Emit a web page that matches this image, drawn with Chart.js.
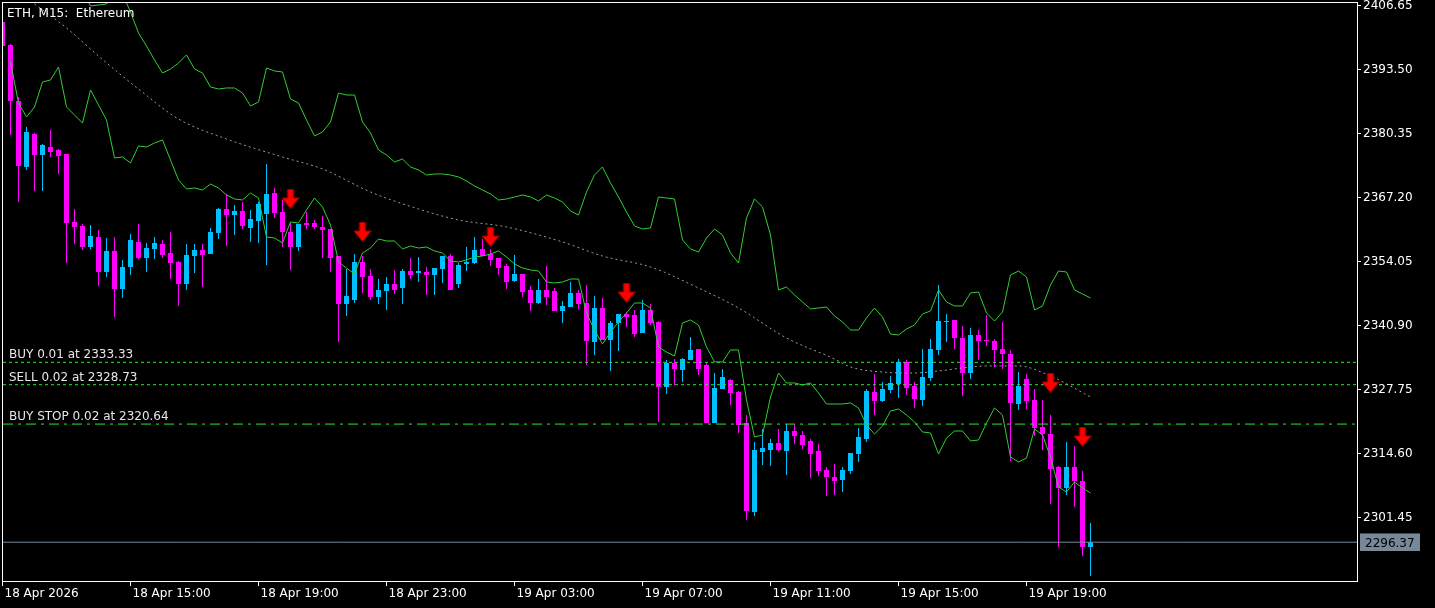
<!DOCTYPE html>
<html>
<head>
<meta charset="utf-8">
<title>ETH, M15</title>
<script src="https://cdn.jsdelivr.net/npm/chart.js@4.4.1/dist/chart.umd.min.js"></script>
<style>
  html, body { margin: 0; padding: 0; background: #000; }
  #chart { display: block; background: #000; }
</style>
</head>
<body>
<canvas id="chart" width="1435" height="608"></canvas>
<script>
'use strict';

// ─── Data (ETH M15, 18 Apr 11:00 → 19 Apr 21:00) ─────────────────────────────
const opens = [
  2403.26, 2398.53, 2387.03, 2373.47, 2380.25, 2375.93, 2377.58, 2376.96, 2376.14, 2362.17,
  2361.34, 2357.03, 2359.08, 2351.89, 2356.21, 2348.40, 2352.92, 2358.06, 2354.77, 2356.62,
  2357.65, 2355.80, 2353.95, 2349.43, 2355.18, 2356.41, 2355.59, 2359.91, 2364.84, 2363.60,
  2364.43, 2360.93, 2362.37, 2363.81, 2368.12, 2364.22, 2360.11, 2357.03, 2361.96, 2361.96,
  2361.14, 2360.73, 2355.18, 2345.32, 2346.14, 2353.95, 2351.07, 2346.76, 2347.99, 2349.43,
  2348.60, 2352.10, 2351.69, 2351.89, 2351.28, 2352.51, 2355.18, 2349.43, 2353.54, 2353.74,
  2356.62, 2355.59, 2354.77, 2353.12, 2350.04, 2351.48, 2348.19, 2345.52, 2348.19, 2347.99,
  2343.88, 2344.70, 2347.58, 2345.52, 2337.51, 2344.50, 2337.92, 2341.41, 2343.26, 2343.06,
  2339.36, 2344.08, 2341.62, 2328.26, 2333.19, 2331.76, 2333.81, 2336.07, 2332.78, 2320.87,
  2327.85, 2329.70, 2327.24, 2320.87, 2302.58, 2314.91, 2315.32, 2316.76, 2315.11, 2319.22,
  2318.40, 2317.17, 2315.11, 2311.21, 2309.77, 2309.15, 2311.00, 2314.50, 2317.58, 2327.24,
  2325.39, 2327.65, 2328.88, 2333.40, 2328.47, 2325.59, 2330.11, 2335.87, 2341.62, 2342.03,
  2338.33, 2331.14, 2338.95, 2337.92, 2337.72, 2336.07, 2335.04, 2324.77, 2329.91, 2325.59,
  2320.04, 2318.61, 2311.83, 2307.51, 2311.83, 2308.95, 2295.39
];
const highs = [
  2404.08, 2398.74, 2387.85, 2381.69, 2380.51, 2378.19, 2381.07, 2377.17, 2376.14, 2364.84,
  2361.76, 2361.55, 2360.52, 2358.88, 2359.08, 2354.36, 2359.70, 2361.76, 2357.85, 2359.08,
  2358.47, 2360.11, 2354.15, 2357.65, 2357.65, 2357.65, 2360.93, 2365.04, 2367.92, 2365.66,
  2366.28, 2364.63, 2366.28, 2374.08, 2369.15, 2366.69, 2361.96, 2361.76, 2364.22, 2362.58,
  2363.40, 2360.73, 2355.18, 2352.51, 2355.59, 2355.18, 2352.51, 2350.45, 2350.86, 2352.30,
  2352.51, 2354.77, 2354.97, 2352.92, 2352.71, 2355.18, 2355.59, 2353.74, 2357.03, 2359.08,
  2358.67, 2356.62, 2354.77, 2353.54, 2355.39, 2351.48, 2349.02, 2350.45, 2353.12, 2348.60,
  2345.93, 2349.84, 2348.19, 2349.22, 2346.96, 2346.55, 2341.82, 2343.26, 2343.67, 2344.08,
  2346.14, 2345.32, 2341.82, 2333.81, 2334.02, 2334.22, 2338.54, 2336.07, 2333.19, 2331.14,
  2331.96, 2329.91, 2327.44, 2322.51, 2316.96, 2319.63, 2317.58, 2319.63, 2320.66, 2320.66,
  2319.22, 2317.58, 2316.55, 2311.83, 2312.44, 2311.83, 2314.70, 2319.84, 2327.85, 2330.93,
  2329.29, 2330.52, 2334.02, 2333.81, 2329.29, 2336.07, 2338.13, 2349.22, 2343.26, 2342.03,
  2340.80, 2340.39, 2339.97, 2343.06, 2338.13, 2341.62, 2335.87, 2331.34, 2330.93, 2327.85,
  2325.59, 2322.51, 2312.03, 2316.96, 2316.14, 2311.00, 2300.32
];
const lows = [
  2397.51, 2380.04, 2366.28, 2372.85, 2368.54, 2368.54, 2375.52, 2372.03, 2353.74, 2357.65,
  2356.41, 2356.62, 2349.02, 2350.86, 2342.65, 2346.55, 2351.28, 2354.56, 2351.89, 2354.56,
  2354.77, 2350.45, 2344.91, 2348.19, 2351.69, 2348.81, 2355.59, 2358.67, 2357.23, 2359.49,
  2360.73, 2358.06, 2357.85, 2353.33, 2362.99, 2357.03, 2352.30, 2356.21, 2360.73, 2360.73,
  2354.77, 2351.89, 2337.51, 2342.85, 2345.52, 2347.58, 2346.14, 2345.32, 2344.08, 2347.37,
  2345.32, 2350.45, 2349.84, 2347.17, 2347.17, 2349.63, 2348.19, 2348.60, 2352.10, 2353.54,
  2355.18, 2353.12, 2351.28, 2348.40, 2349.84, 2346.76, 2343.88, 2345.32, 2345.11, 2343.88,
  2341.41, 2344.70, 2344.29, 2332.78, 2334.84, 2337.92, 2331.55, 2335.66, 2340.59, 2338.54,
  2339.36, 2341.00, 2321.07, 2326.82, 2328.67, 2329.29, 2333.81, 2330.73, 2320.87, 2320.87,
  2327.85, 2324.56, 2318.81, 2300.94, 2301.76, 2312.24, 2312.03, 2315.11, 2310.18, 2316.55,
  2315.52, 2309.57, 2309.98, 2305.87, 2306.07, 2306.69, 2310.39, 2312.85, 2316.96, 2322.51,
  2325.18, 2327.03, 2326.00, 2326.62, 2323.95, 2324.36, 2329.50, 2334.84, 2337.51, 2336.07,
  2326.41, 2329.91, 2333.81, 2336.69, 2332.37, 2331.96, 2313.06, 2323.54, 2323.74, 2318.20,
  2315.32, 2304.22, 2295.39, 2306.07, 2303.61, 2293.54, 2289.43
];
const closes = [
  2398.33, 2387.03, 2373.67, 2380.66, 2375.93, 2377.99, 2376.55, 2375.73, 2361.96, 2361.14,
  2357.03, 2359.29, 2351.89, 2356.21, 2348.40, 2352.92, 2358.47, 2354.77, 2356.82, 2357.85,
  2355.39, 2353.74, 2349.43, 2355.39, 2356.41, 2355.39, 2360.11, 2364.84, 2363.60, 2364.43,
  2361.34, 2362.78, 2365.86, 2367.92, 2364.01, 2360.11, 2357.03, 2361.76, 2361.55, 2361.14,
  2360.52, 2354.77, 2345.32, 2346.96, 2353.95, 2350.86, 2346.76, 2348.19, 2349.43, 2348.19,
  2352.10, 2351.28, 2352.10, 2351.28, 2352.71, 2355.18, 2348.19, 2353.33, 2353.95, 2356.41,
  2355.18, 2354.36, 2352.71, 2349.84, 2351.48, 2347.78, 2345.52, 2348.19, 2346.76, 2343.88,
  2344.91, 2347.58, 2345.32, 2337.72, 2344.50, 2337.92, 2341.41, 2343.26, 2342.65, 2339.15,
  2344.08, 2341.41, 2328.26, 2333.19, 2331.96, 2334.02, 2335.87, 2331.96, 2320.87, 2328.06,
  2330.32, 2327.03, 2320.46, 2302.79, 2315.32, 2315.73, 2316.76, 2315.32, 2319.22, 2318.20,
  2316.35, 2314.50, 2311.00, 2309.77, 2308.95, 2311.21, 2314.70, 2317.99, 2327.44, 2325.39,
  2327.85, 2329.09, 2333.40, 2328.06, 2325.80, 2330.32, 2336.07, 2341.82, 2341.82, 2338.33,
  2331.14, 2338.95, 2337.72, 2337.72, 2335.87, 2335.04, 2324.98, 2328.47, 2325.39, 2319.84,
  2318.61, 2311.41, 2307.51, 2311.83, 2308.95, 2295.39, 2296.37
];

// upper / lower green band, one value per bar (null = not drawn)
const upperBand = [
  null, null, null, null, null, null, null, null, null, null,
  2409.83, 2406.55, 2406.75, 2406.96, 2410.25, 2409.01, 2405.31, 2401.00, 2398.33, 2395.45,
  2392.78, 2393.60, 2394.83, 2396.48, 2393.60, 2392.78, 2389.90, 2389.49, 2389.70, 2389.70,
  2388.67, 2386.00, 2386.82, 2393.81, 2393.19, 2392.99, 2387.44, 2386.62, 2383.12, 2379.84,
  2380.66, 2382.71, 2388.67, 2388.26, 2388.26, 2382.71, 2380.45, 2376.96, 2375.93, 2374.49,
  2375.11, 2373.47, 2372.85, 2371.82, 2372.03, 2372.03, 2371.82, 2371.41, 2370.59, 2369.56,
  2368.74, 2367.92, 2366.69, 2366.89, 2367.30, 2367.71, 2367.30, 2366.48, 2367.71, 2367.10,
  2366.28, 2364.43, 2363.60, 2368.33, 2371.82, 2373.47, 2370.18, 2367.30, 2364.22, 2361.34,
  2360.73, 2360.93, 2367.30, 2367.10, 2366.89, 2358.47, 2356.62, 2356.00, 2358.88, 2360.73,
  2359.49, 2355.80, 2353.74, 2362.99, 2366.89, 2365.25, 2359.49, 2348.19, 2348.81, 2347.17,
  2345.73, 2344.29, 2344.50, 2344.70, 2342.85, 2341.62, 2339.97, 2339.97, 2342.44, 2344.50,
  2342.65, 2339.15, 2338.95, 2340.18, 2341.00, 2343.26, 2343.88, 2348.19, 2345.73, 2344.91,
  2344.91, 2347.58, 2347.78, 2343.47, 2341.82, 2343.67, 2351.28, 2352.10, 2350.86, 2344.08,
  2344.91, 2349.22, 2352.10, 2351.89, 2348.19, 2347.37, 2346.55
];
const lowerBand = [
  null, 2395.04, 2386.62, 2383.74, 2385.79, 2390.93, 2391.34, 2394.01, 2385.79, 2384.15,
  2382.51, 2389.29, 2386.21, 2383.12, 2375.32, 2375.52, 2374.29, 2377.78, 2377.58, 2378.40,
  2379.02, 2374.90, 2370.80, 2368.95, 2369.15, 2368.74, 2369.97, 2369.15, 2367.71, 2366.89,
  2366.69, 2368.12, 2367.10, 2359.08, 2358.88, 2357.85, 2362.17, 2361.96, 2364.63, 2367.10,
  2365.25, 2361.55, 2353.95, 2352.71, 2351.48, 2355.80, 2356.82, 2358.67, 2358.26, 2358.26,
  2356.62, 2357.23, 2356.82, 2357.03, 2356.21, 2355.80, 2354.15, 2353.95, 2354.36, 2354.97,
  2355.18, 2355.59, 2356.21, 2354.97, 2353.54, 2352.71, 2352.30, 2352.10, 2349.84, 2349.63,
  2349.84, 2350.45, 2350.45, 2343.47, 2339.97, 2337.10, 2339.56, 2341.62, 2343.47, 2345.52,
  2345.52, 2344.50, 2336.48, 2335.45, 2334.63, 2341.41, 2342.03, 2341.00, 2336.48, 2333.40,
  2333.40, 2335.87, 2335.87, 2325.59, 2317.99, 2318.40, 2326.21, 2331.14, 2329.09, 2329.09,
  2328.67, 2329.09, 2327.03, 2324.77, 2324.77, 2324.77, 2324.98, 2323.95, 2320.46, 2318.61,
  2320.25, 2323.33, 2323.74, 2322.51, 2321.07, 2319.02, 2318.81, 2314.50, 2317.78, 2319.22,
  2319.22, 2317.17, 2317.37, 2320.87, 2323.95, 2322.51, 2313.88, 2312.85, 2313.67, 2319.63,
  2318.40, 2313.88, 2307.72, 2306.69, 2308.74, 2307.51, 2306.48
];

// slow moving average (grey dotted), read at these bars
const maIdx  = [0, 4, 8, 12, 17, 22, 28, 35, 40, 46, 52, 57, 63, 70, 75, 81, 87, 92, 98, 104,
                106, 110, 114, 117, 120, 123, 127, 131, 136];
const maVals = [2411.89, 2406.96, 2402.03, 2396.27, 2389.49, 2383.33, 2379.22, 2375.52, 2373.06,
                2368.33, 2364.84, 2362.58, 2361.14, 2358.06, 2355.18, 2352.92, 2348.60, 2344.50,
                2338.33, 2334.02, 2332.37, 2331.34, 2331.14, 2331.55, 2332.17, 2332.58, 2332.58,
                2330.52, 2326.21];

// sell signal arrows
const arrowIdx  = [36, 45, 61, 78, 131, 135];
const arrowVals = [2366.89, 2360.11, 2359.08, 2347.58, 2329.09, 2317.99];

// open orders
const orderLabels = ['BUY 0.01 at 2333.33', 'SELL 0.02 at 2328.73', 'BUY STOP 0.02 at 2320.64'];
const orderPrices = [2333.33, 2328.73, 2320.64];

const bidPrice = 2296.37;

// axes
const yTickValues = [2301.45, 2314.60, 2327.75, 2340.90, 2354.05, 2367.20, 2380.35, 2393.50, 2406.65];
const xTickIdx    = [0, 16, 32, 48, 64, 80, 96, 112, 128];
const xTickLabels = ['18 Apr 2026', '18 Apr 15:00', '18 Apr 19:00', '18 Apr 23:00', '19 Apr 03:00',
                     '19 Apr 07:00', '19 Apr 11:00', '19 Apr 15:00', '19 Apr 19:00'];

// ─── Look ─────────────────────────────────────────────────────────────────────
const BULL = '#00bfff';
const BEAR = '#ff00ff';
const BAND = '#32cd32';
const ORDER = '#2ee62e';
const MA_COLOR = '#9a9a9a';
const FONT = '"DejaVu Sans", "Noto Sans", sans-serif';
const X_MIN = 0.0625, X_MAX = 169.3125;
const Y_MIN = 2288.40, Y_MAX = 2407.16;

Chart.defaults.font.family = FONT;
Chart.defaults.font.size = 12;
Chart.defaults.color = '#ffffff';

const idx = opens.map((_, i) => i);
const candleColors = idx.map(i => (closes[i] >= opens[i] ? BULL : BEAR));

function arrowImage() {
  const c = document.createElement('canvas');
  c.width = 18; c.height = 20;
  const g = c.getContext('2d');
  g.beginPath();
  g.moveTo(6, 0.5); g.lineTo(12, 0.5); g.lineTo(12, 9);
  g.lineTo(17.5, 9); g.lineTo(9, 19.5); g.lineTo(0.5, 9);
  g.lineTo(6, 9); g.closePath();
  g.fillStyle = '#ff0000';
  g.fill();
  g.strokeStyle = '#a00000';
  g.lineWidth = 1;
  g.stroke();
  return c;
}

const hline = price => [{ x: X_MIN, y: price }, { x: X_MAX, y: price }];
const orderDash = [[3, 3], [3, 3], [10, 5, 3, 5]];

// ─── Plugin: frame, caption, order texts, price box ──────────────────────────
const decorations = {
  id: 'decorations',
  afterDraw(chart) {
    const { ctx, chartArea: a, scales } = chart;
    ctx.save();
    ctx.strokeStyle = '#ffffff';
    ctx.lineWidth = 1;
    ctx.strokeRect(a.left - 0.5, a.top - 0.5, a.right - a.left + 1, a.bottom - a.top + 1);

    ctx.font = '12px ' + FONT;
    ctx.textBaseline = 'alphabetic';
    ctx.textAlign = 'left';
    ctx.fillStyle = '#ffffff';
    ctx.fillText('ETH, M15:  Ethereum', 7, 17);

    ctx.fillStyle = '#e6e6e6';
    orderPrices.forEach((p, i) => {
      const y = scales.y.getPixelForValue(p);
      ctx.fillText(orderLabels[i], 9, Math.round(y) - 4);
    });

    // bid price box on the price axis
    const by = Math.round(scales.y.getPixelForValue(bidPrice));
    ctx.fillStyle = '#778899';
    ctx.fillRect(a.right + 3, by - 8, 60, 17);
    ctx.fillStyle = '#ff0000';
    ctx.fillRect(a.right + 3, by - 9, 60, 1);
    ctx.fillStyle = '#000000';
    ctx.fillText(bidPrice.toFixed(2), a.right + 8, by + 5);
    ctx.restore();
  }
};

// ─── Chart ────────────────────────────────────────────────────────────────────
new Chart(document.getElementById('chart').getContext('2d'), {
  type: 'line',
  data: {
    datasets: [
      {
        type: 'bar', label: 'wicks',
        data: idx.map(i => ({ x: i, y: [lows[i], highs[i]] })),
        backgroundColor: candleColors,
        barThickness: 1, grouped: false, inflateAmount: 0, borderWidth: 0,
        order: 10,
      },
      {
        type: 'bar', label: 'bodies',
        data: idx.map(i => ({ x: i, y: [opens[i], closes[i]] })),
        backgroundColor: candleColors,
        barThickness: 5, grouped: false, inflateAmount: 0, borderWidth: 0, minBarLength: 1,
        order: 9,
      },
      {
        label: 'upper', data: idx.map(i => ({ x: i, y: upperBand[i] })),
        borderColor: BAND, borderWidth: 1, pointRadius: 0, spanGaps: false, order: 5,
      },
      {
        label: 'lower', data: idx.map(i => ({ x: i, y: lowerBand[i] })),
        borderColor: BAND, borderWidth: 1, pointRadius: 0, spanGaps: false, order: 5,
      },
      {
        label: 'ma', data: maIdx.map((k, i) => ({ x: k, y: maVals[i] })),
        borderColor: MA_COLOR, borderWidth: 1, borderDash: [2, 3], pointRadius: 0,
        cubicInterpolationMode: 'monotone', order: 6,
      },
      ...orderPrices.map((p, i) => ({
        label: orderLabels[i], data: hline(p),
        borderColor: ORDER, borderWidth: 1, borderDash: orderDash[i], pointRadius: 0, order: 4,
      })),
      {
        label: 'bid', data: hline(bidPrice),
        borderColor: '#778899', borderWidth: 1, pointRadius: 0, order: 3,
      },
      {
        type: 'scatter', label: 'sell',
        data: arrowIdx.map((k, i) => ({ x: k, y: arrowVals[i] })),
        pointStyle: arrowImage(), pointRadius: 9, showLine: false, order: 1,
      },
    ],
  },
  options: {
    responsive: false,
    devicePixelRatio: 1,
    animation: false,
    events: [],
    layout: { autoPadding: false, padding: { left: 3, top: 3, right: 0, bottom: 0 } },
    plugins: { legend: { display: false }, tooltip: { enabled: false } },
    scales: {
      x: {
        type: 'linear', min: X_MIN, max: X_MAX, offset: false,
        grid: { display: true, offset: false, drawOnChartArea: false, drawTicks: true, tickLength: 5, color: '#ffffff' },
        border: { display: false },
        afterBuildTicks: s => { s.ticks = xTickIdx.map(v => ({ value: v })); },
        afterFit: s => { s.height = 27; s.paddingLeft = 0; s.paddingRight = 0; },
        ticks: {
          autoSkip: false, maxRotation: 0, align: 'start', labelOffset: 2, padding: 1,
          color: '#ffffff',
          callback: v => xTickLabels[xTickIdx.indexOf(v)],
        },
      },
      y: {
        type: 'linear', position: 'right', min: Y_MIN, max: Y_MAX,
        grid: { display: true, drawOnChartArea: false, drawTicks: true, tickLength: 4, color: '#ffffff' },
        border: { display: false },
        afterBuildTicks: s => { s.ticks = yTickValues.map(v => ({ value: v })); },
        afterFit: s => { s.width = 78; s.paddingTop = 0; s.paddingBottom = 0; },
        ticks: {
          autoSkip: false, padding: 2, color: '#ffffff',
          callback: v => v.toFixed(2),
        },
      },
    },
  },
  plugins: [decorations],
});
</script>
</body>
</html>
